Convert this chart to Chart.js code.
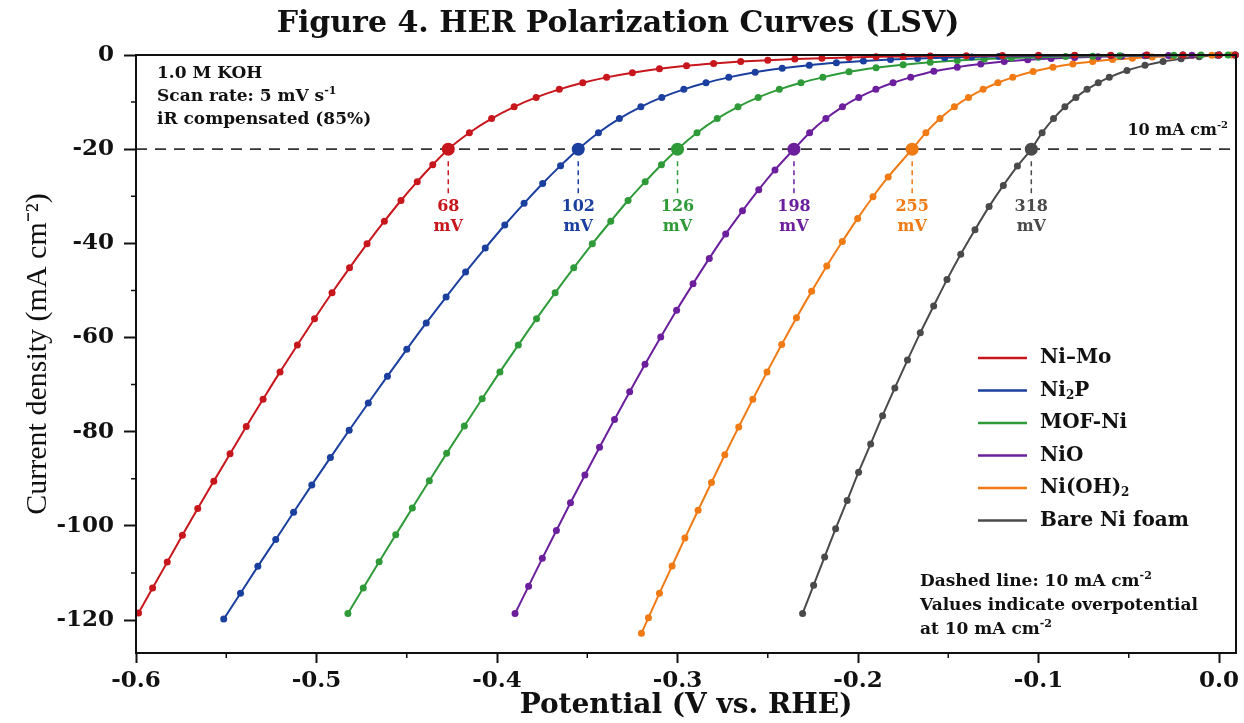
<!DOCTYPE html>
<html>
<head>
<meta charset="utf-8">
<title>Figure 4. HER Polarization Curves (LSV)</title>
<script src="https://cdn.jsdelivr.net/npm/chart.js@4.4.1/dist/chart.umd.min.js"></script>
<style>
  html, body { margin: 0; padding: 0; background: #fff; }
  #wrap { width: 1244px; height: 723px; }
</style>
</head>
<body>
<div id="wrap"><canvas id="lsv" width="1244" height="723"></canvas></div>
<script>
// potentials (V vs. RHE) and current densities (mA cm-2)
const niMoE = [-0.5986,-0.5908,-0.5827,-0.5743,-0.5658,-0.5569,-0.5479,-0.5389,-0.5296,-0.5202,-0.5106,-0.5011,-0.4914,-0.4817,-0.4720,-0.4624,-0.4532,-0.4442,-0.4356,-0.4270,-0.4153,-0.4030,-0.3905,-0.3783,-0.3655,-0.3525,-0.3393,-0.325,-0.310,-0.295,-0.280,-0.265,-0.250,-0.235,-0.220,-0.205,-0.190,-0.175,-0.160,-0.140,-0.120,-0.100,-0.080,-0.060,-0.040,-0.020,0.000,0.009];
const niMoJ = [-118.5,-113.2,-107.7,-102.0,-96.3,-90.5,-84.7,-78.9,-73.1,-67.3,-61.6,-56.0,-50.5,-45.2,-40.1,-35.3,-30.9,-26.9,-23.3,-20.0,-16.5,-13.5,-11.0,-9.0,-7.3,-5.9,-4.75,-3.76,-2.94,-2.30,-1.80,-1.40,-1.10,-0.86,-0.67,-0.51,-0.39,-0.30,-0.23,-0.163,-0.112,-0.076,-0.049,-0.031,-0.017,-0.007,0,0];

const ni2pE = [-0.5514,-0.5421,-0.5325,-0.5226,-0.5127,-0.5026,-0.4923,-0.4819,-0.4713,-0.4607,-0.4500,-0.4392,-0.4282,-0.4174,-0.4065,-0.3957,-0.3850,-0.3747,-0.3648,-0.3550,-0.3438,-0.3322,-0.3203,-0.3087,-0.2965,-0.2842,-0.2716,-0.257,-0.242,-0.227,-0.212,-0.197,-0.182,-0.167,-0.152,-0.137,-0.122,-0.100,-0.080,-0.060,-0.040,-0.020,0.000,0.009];
const ni2pJ = [-119.8,-114.3,-108.6,-102.9,-97.1,-91.3,-85.5,-79.7,-73.9,-68.2,-62.5,-56.9,-51.4,-46.1,-41.0,-36.1,-31.5,-27.3,-23.5,-20.0,-16.5,-13.5,-11.0,-9.0,-7.3,-5.9,-4.75,-3.65,-2.81,-2.16,-1.66,-1.27,-0.97,-0.74,-0.56,-0.42,-0.32,-0.20,-0.13,-0.08,-0.044,-0.018,0,0];

const mofNiE = [-0.4826,-0.4741,-0.4653,-0.4561,-0.4469,-0.4375,-0.4279,-0.4181,-0.4082,-0.3984,-0.3882,-0.3781,-0.3678,-0.3575,-0.3472,-0.3370,-0.3274,-0.3179,-0.3089,-0.3000,-0.2892,-0.2780,-0.2665,-0.2553,-0.2436,-0.2316,-0.2195,-0.205,-0.190,-0.175,-0.160,-0.145,-0.130,-0.115,-0.100,-0.085,-0.070,-0.055,-0.040,-0.025,-0.010,0.005];
const mofNiJ = [-118.6,-113.2,-107.6,-101.9,-96.2,-90.4,-84.6,-78.8,-73.0,-67.3,-61.6,-56.0,-50.5,-45.2,-40.1,-35.3,-30.9,-26.9,-23.3,-20.0,-16.5,-13.5,-11.0,-9.0,-7.3,-5.9,-4.75,-3.58,-2.72,-2.06,-1.55,-1.17,-0.87,-0.64,-0.47,-0.34,-0.24,-0.16,-0.10,-0.06,-0.02,0];

const nioE = [-0.3900,-0.3825,-0.3749,-0.3671,-0.3593,-0.3513,-0.3432,-0.3349,-0.3265,-0.3180,-0.3093,-0.3005,-0.2914,-0.2824,-0.2733,-0.2640,-0.2550,-0.2460,-0.2355,-0.2268,-0.2178,-0.2086,-0.1996,-0.1901,-0.1806,-0.1708,-0.158,-0.145,-0.132,-0.119,-0.106,-0.093,-0.080,-0.067,-0.054,-0.041,-0.028,-0.015,0.000];
const nioJ = [-118.6,-112.8,-106.9,-101.0,-95.1,-89.2,-83.3,-77.4,-71.5,-65.7,-59.9,-54.2,-48.6,-43.2,-38.0,-33.1,-28.6,-24.4,-20.0,-16.5,-13.5,-11.0,-9.0,-7.3,-5.9,-4.75,-3.47,-2.58,-1.91,-1.40,-1.03,-0.74,-0.53,-0.37,-0.25,-0.16,-0.10,-0.05,0];

const niOH2E = [-0.3200,-0.3161,-0.3100,-0.3030,-0.2959,-0.2886,-0.2812,-0.2738,-0.2661,-0.2583,-0.2504,-0.2423,-0.2341,-0.2257,-0.2173,-0.2087,-0.2002,-0.1917,-0.1833,-0.1700,-0.1624,-0.1546,-0.1466,-0.1388,-0.1307,-0.1225,-0.1143,-0.103,-0.092,-0.081,-0.070,-0.059,-0.048,-0.037,-0.026,-0.015,-0.004,0.007];
const niOH2J = [-122.8,-119.5,-114.3,-108.5,-102.6,-96.7,-90.8,-84.9,-79.0,-73.1,-67.3,-61.5,-55.8,-50.2,-44.8,-39.6,-34.7,-30.1,-25.9,-20.0,-16.5,-13.5,-11.0,-9.0,-7.3,-5.9,-4.75,-3.51,-2.60,-1.90,-1.38,-0.98,-0.67,-0.44,-0.27,-0.13,-0.03,0];

const bareNiE = [-0.2307,-0.2246,-0.2185,-0.2124,-0.2060,-0.1997,-0.1930,-0.1864,-0.1796,-0.1726,-0.1655,-0.1581,-0.1507,-0.1431,-0.1352,-0.1274,-0.1195,-0.1117,-0.1040,-0.0980,-0.0917,-0.0854,-0.0793,-0.0731,-0.0669,-0.0608,-0.051,-0.041,-0.031,-0.021,-0.011,-0.001,0.009];
const bareNiJ = [-118.6,-112.6,-106.6,-100.6,-94.6,-88.6,-82.6,-76.6,-70.7,-64.8,-59.0,-53.3,-47.7,-42.3,-37.1,-32.2,-27.7,-23.6,-20.0,-16.5,-13.5,-11.0,-9.0,-7.3,-5.9,-4.75,-3.30,-2.20,-1.39,-0.80,-0.35,-0.03,0];

const seriesNames = ['Ni–Mo', 'Ni₂P', 'MOF-Ni', 'NiO', 'Ni(OH)₂', 'Bare Ni foam'];
const seriesColors = ['#c8161d', '#1b3f9e', '#2e9b38', '#6b1f9c', '#f07a14', '#4a4a4a'];

// potential where each curve reaches 10 mA cm-2 (drawn at -20 on this axis) and the quoted overpotentials
const refJ = -20;
const crossE = [-0.427, -0.355, -0.300, -0.2355, -0.170, -0.104];
const etaMV = ['68', '102', '126', '198', '255', '318'];

const xTicks = [-0.6, -0.5, -0.4, -0.3, -0.2, -0.1, 0.0];
const xMinor = [-0.55, -0.45, -0.35, -0.25, -0.15, -0.05];
const yTicks = [0, -20, -40, -60, -80, -100, -120];
const yMinor = [-10, -30, -50, -70, -90, -110];
const xRange = [-0.6, 0.0094];
const yRange = [-127, 0];

const SERIF = '"DejaVu Serif", serif';
const TIMES = '"Liberation Serif", "Times New Roman", serif';
const INK = '#111';

Chart.defaults.color = INK;
Chart.defaults.font.family = SERIF;

// draws text with unicode sub/superscripts rendered as small raised/lowered runs
function drawRich(ctx, text, x, y, size, color, align) {
  const supMap = {'⁻': '-', '¹': '1', '²': '2'};
  const subMap = {'₂': '2'};
  const runs = [];
  for (const ch of text) {
    let kind = 'n', c = ch;
    if (supMap[ch]) { kind = 'sup'; c = supMap[ch]; }
    else if (subMap[ch]) { kind = 'sub'; c = subMap[ch]; }
    const last = runs[runs.length - 1];
    if (last && last.kind === kind) last.t += c; else runs.push({kind: kind, t: c});
  }
  const small = Math.round(size * 0.62);
  let total = 0;
  runs.forEach(r => {
    ctx.font = 'bold ' + (r.kind === 'n' ? size : small) + 'px ' + SERIF;
    r.w = ctx.measureText(r.t).width;
    total += r.w;
  });
  let cx = align === 'right' ? x - total : align === 'center' ? x - total / 2 : x;
  ctx.fillStyle = color;
  ctx.textAlign = 'left';
  ctx.textBaseline = 'middle';
  runs.forEach(r => {
    ctx.font = 'bold ' + (r.kind === 'n' ? size : small) + 'px ' + SERIF;
    let dy = 0;
    if (r.kind === 'sup') dy = -size * 0.36;
    if (r.kind === 'sub') dy = size * 0.26;
    ctx.fillText(r.t, cx, y + dy);
    cx += r.w;
  });
}

const annotations = {
  id: 'annotations',
  afterDatasetsDraw(chart) {
    const ctx = chart.ctx;
    const area = chart.chartArea;
    const xs = chart.scales.x, ys = chart.scales.y;
    ctx.save();

    // frame
    ctx.strokeStyle = INK;
    ctx.lineWidth = 2;
    ctx.strokeRect(area.left, area.top, area.right - area.left, area.bottom - area.top);

    // minor ticks
    ctx.lineWidth = 1.5;
    ctx.beginPath();
    xMinor.forEach(v => {
      const px = xs.getPixelForValue(v);
      ctx.moveTo(px, area.bottom);
      ctx.lineTo(px, area.bottom + 5);
    });
    yMinor.forEach(v => {
      const py = ys.getPixelForValue(v);
      ctx.moveTo(area.left, py);
      ctx.lineTo(area.left - 5, py);
    });
    ctx.stroke();

    // drop lines and overpotential labels
    const yRef = ys.getPixelForValue(refJ);
    crossE.forEach((e, i) => {
      const px = xs.getPixelForValue(e);
      ctx.strokeStyle = seriesColors[i];
      ctx.lineWidth = 1.5;
      ctx.setLineDash([5, 4]);
      ctx.beginPath();
      ctx.moveTo(px, yRef + 12);
      ctx.lineTo(px, yRef + 44);
      ctx.stroke();
      ctx.setLineDash([]);
      drawRich(ctx, etaMV[i], px, yRef + 58, 16, seriesColors[i], 'center');
      drawRich(ctx, 'mV', px, yRef + 78, 16, seriesColors[i], 'center');
    });

    // notes
    const notesTL = ['1.0 M KOH', 'Scan rate: 5 mV s⁻¹', 'iR compensated (85%)'];
    notesTL.forEach((t, i) => drawRich(ctx, t, area.left + 21, area.top + 19 + i * 23, 17, INK, 'left'));
    drawRich(ctx, '10 mA cm⁻²', area.right - 8, yRef - 18, 16, INK, 'right');
    const notesBR = ['Dashed line: 10 mA cm⁻²', 'Values indicate overpotential', 'at 10 mA cm⁻²'];
    notesBR.forEach((t, i) => drawRich(ctx, t, area.right - 316, area.bottom - 71 + i * 24, 17, INK, 'left'));

    // legend
    seriesNames.forEach((name, i) => {
      const y = area.top + 303 + i * 32.5;
      ctx.strokeStyle = seriesColors[i];
      ctx.lineWidth = 2.5;
      ctx.beginPath();
      ctx.moveTo(area.right - 258, y);
      ctx.lineTo(area.right - 209, y);
      ctx.stroke();
      drawRich(ctx, name, area.right - 196, y, 20, INK, 'left');
    });
    ctx.restore();
  }
};

const curveE = [niMoE, ni2pE, mofNiE, nioE, niOH2E, bareNiE];
const curveJ = [niMoJ, ni2pJ, mofNiJ, nioJ, niOH2J, bareNiJ];

const datasets = curveE.map((es, i) => ({
  label: seriesNames[i],
  data: es.map((e, k) => ({x: e, y: curveJ[i][k]})),
  borderColor: seriesColors[i],
  backgroundColor: seriesColors[i],
  pointBackgroundColor: seriesColors[i],
  pointBorderWidth: 0,
  pointRadius: 3.5,
  borderWidth: 2,
  cubicInterpolationMode: 'monotone',
  clip: 8,
  order: 5
}));

datasets.push({
  label: '10 mA cm⁻²',
  data: [{x: xRange[0], y: refJ}, {x: xRange[1], y: refJ}],
  borderColor: '#333',
  borderDash: [11, 8],
  borderWidth: 1.6,
  pointRadius: 0,
  order: 10
});

datasets.push({
  label: 'η10',
  data: crossE.map(e => ({x: e, y: refJ})),
  showLine: false,
  pointRadius: 6.5,
  pointBorderWidth: 0,
  pointBackgroundColor: seriesColors,
  clip: 8,
  order: 0
});

new Chart(document.getElementById('lsv'), {
  type: 'line',
  data: { datasets },
  options: {
    responsive: false,
    animation: false,
    devicePixelRatio: 1,
    events: [],
    layout: { padding: { left: 0, right: 8, top: 0, bottom: 0 } },
    plugins: {
      legend: { display: false },
      tooltip: { enabled: false },
      title: {
        display: true,
        text: 'Figure 4. HER Polarization Curves (LSV)',
        color: INK,
        font: { family: SERIF, size: 30, weight: 'bold' },
        padding: { top: 6, bottom: 13 }
      }
    },
    scales: {
      x: {
        type: 'linear',
        min: xRange[0],
        max: xRange[1],
        afterBuildTicks: s => { s.ticks = xTicks.map(v => ({value: v})); },
        afterFit: s => { s.height = 70; },
        ticks: {
          callback: v => v.toFixed(1),
          font: { family: SERIF, size: 23, weight: 'bold' },
          color: INK,
          padding: 4,
          maxRotation: 0,
          autoSkip: false
        },
        grid: { drawOnChartArea: false, tickLength: 10, tickWidth: 2, tickColor: INK },
        border: { color: INK, width: 2 },
        title: {
          display: true,
          text: 'Potential (V vs. RHE)',
          color: INK,
          font: { family: SERIF, size: 28, weight: 'bold' },
          padding: { top: 0, bottom: 0 }
        }
      },
      y: {
        type: 'linear',
        min: yRange[0],
        max: yRange[1],
        afterBuildTicks: s => { s.ticks = yTicks.map(v => ({value: v})); },
        afterFit: s => { s.width = 136; },
        ticks: {
          callback: v => String(v),
          font: { family: SERIF, size: 23, weight: 'bold' },
          color: INK,
          padding: 10
        },
        grid: { drawOnChartArea: false, tickLength: 12, tickWidth: 2, tickColor: INK },
        border: { color: INK, width: 2 },
        title: {
          display: true,
          text: 'Current density (mA cm⁻²)',
          color: INK,
          font: { family: TIMES, size: 30, weight: 'normal' },
          padding: { top: 20, bottom: 0 }
        }
      }
    }
  },
  plugins: [annotations]
});
</script>
</body>
</html>
